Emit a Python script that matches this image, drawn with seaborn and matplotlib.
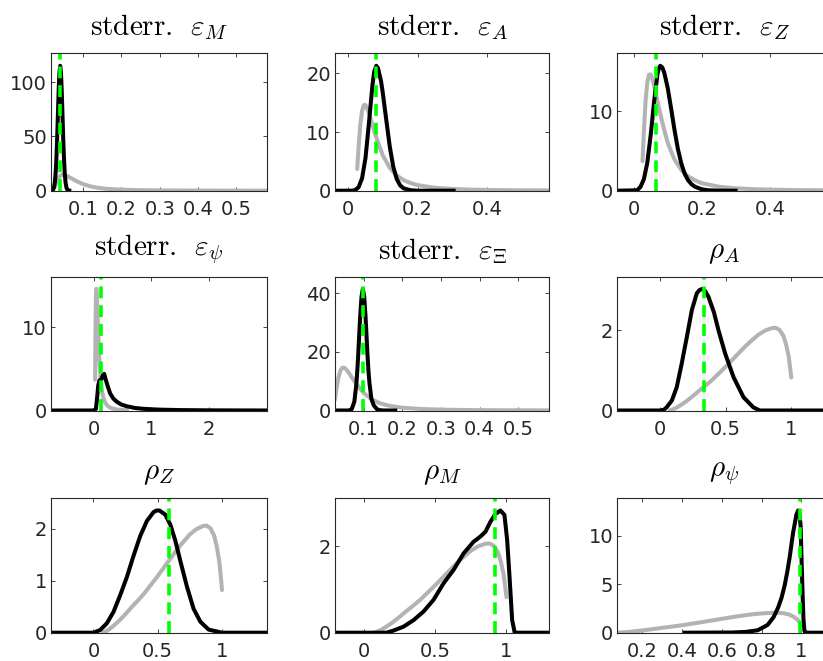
import numpy as np
import pandas as pd
import matplotlib
matplotlib.use("Agg")
import matplotlib.pyplot as plt
import seaborn as sns

# ---------------- data ----------------
# shared prior densities (grey)
prior_std_x = [0.026, 0.030, 0.035, 0.040, 0.045, 0.050, 0.055, 0.060, 0.070, 0.080, 0.090,
               0.100, 0.120, 0.140, 0.160, 0.180, 0.200, 0.250, 0.300, 0.350, 0.400, 0.450,
               0.500, 0.580]
prior_std_y = [3.7, 7.5, 11.3, 13.6, 14.6, 14.6, 14.0, 13.2, 11.2, 9.3, 7.6,
               6.0, 3.9, 2.6, 1.8, 1.3, 0.95, 0.5, 0.3, 0.19, 0.13, 0.09,
               0.07, 0.05]
prior_rho_x = [0.075, 0.12, 0.16, 0.2, 0.25, 0.3, 0.35, 0.4, 0.45, 0.5, 0.55, 0.6, 0.65,
               0.7, 0.75, 0.8, 0.85, 0.88, 0.91, 0.94, 0.96, 0.98, 0.99, 1.0]
prior_rho_y = [0.0, 0.06, 0.14, 0.23, 0.36, 0.5, 0.63, 0.77, 0.93, 1.09, 1.26, 1.43, 1.6,
               1.75, 1.89, 1.99, 2.05, 2.06, 2.01, 1.86, 1.65, 1.35, 1.1, 0.82]

# posterior densities (black)
post_eM_x = [0.016, 0.020, 0.022, 0.024, 0.026, 0.028, 0.030, 0.032, 0.034, 0.036, 0.038,
             0.040, 0.042, 0.044, 0.046, 0.048, 0.050, 0.052, 0.054, 0.056, 0.058, 0.060,
             0.064, 0.069]
post_eM_y = [0.04, 0.45, 1.3, 3.3, 7.6, 15.6, 28.7, 47.3, 69.8, 92.1, 108.8,
             115.0, 108.8, 92.1, 69.8, 47.3, 28.7, 15.6, 7.6, 3.3, 1.3, 0.45,
             0.04, 0.0]
post_eA_x = [-0.038, 0.01, 0.02, 0.03, 0.04, 0.05, 0.06, 0.07, 0.075, 0.081, 0.086, 0.095,
             0.10, 0.11, 0.12, 0.13, 0.14, 0.15, 0.16, 0.18, 0.20, 0.31]
post_eA_y = [0.0, 0.0, 0.1, 0.6, 2.1, 5.6, 11.6, 18.0, 20.3, 21.3, 20.9, 18.6,
             16.6, 12.0, 7.5, 4.1, 2.0, 0.9, 0.4, 0.08, 0.0, 0.0]
post_eZ_x = [-0.048, 0.01, 0.02, 0.03, 0.04, 0.05, 0.06, 0.07, 0.074, 0.078, 0.084, 0.09,
             0.10, 0.11, 0.12, 0.13, 0.14, 0.15, 0.16, 0.17, 0.18, 0.20, 0.22, 0.25, 0.305]
post_eZ_y = [0.0, 0.05, 0.47, 1.45, 3.5, 7.0, 11.2, 14.7, 15.4, 15.7, 15.5, 14.8,
             12.9, 10.3, 7.6, 5.2, 3.4, 2.1, 1.3, 0.8, 0.5, 0.17, 0.05, 0.01, 0.0]
post_epsi_x = [-0.74, 0.0, 0.04, 0.06, 0.08, 0.10, 0.13, 0.16, 0.183, 0.21, 0.25, 0.287, 0.34,
               0.40, 0.48, 0.58, 0.72, 0.87, 1.0, 1.16, 1.5, 2.0, 2.5, 3.01]
post_epsi_y = [0.0, 0.0, 0.2, 1.5, 3.0, 3.6, 3.7, 4.2, 4.4, 3.7, 2.8, 2.05, 1.45,
               1.06, 0.72, 0.5, 0.3, 0.2, 0.15, 0.1, 0.05, 0.02, 0.01, 0.0]
post_eXi_x = [0.027, 0.061, 0.069, 0.076, 0.081, 0.0835, 0.086, 0.0885, 0.091, 0.0945, 0.098,
              0.1015, 0.105, 0.1075, 0.110, 0.1125, 0.115, 0.120, 0.126, 0.134, 0.141, 0.151, 0.187]
post_eXi_y = [0.0, 0.0, 0.4, 3.0, 8.7, 13.3, 19.0, 25.5, 31.9, 38.8, 41.5,
              38.8, 31.9, 25.5, 19.0, 13.5, 9.5, 4.0, 1.8, 0.5, 0.12, 0.0, 0.0]
post_rA_x = [-0.326, 0.0, 0.03, 0.05, 0.09, 0.127, 0.165, 0.204, 0.242, 0.28, 0.30, 0.323,
             0.345, 0.369, 0.41, 0.445, 0.496, 0.56, 0.636, 0.71, 0.76, 1.305]
post_rA_y = [0.0, 0.0, 0.02, 0.08, 0.25, 0.58, 1.17, 1.83, 2.5, 2.92, 3.0, 3.03,
             2.97, 2.83, 2.45, 2.0, 1.42, 0.83, 0.33, 0.08, 0.0, 0.0]
post_rZ_x = [-0.33, 0.0, 0.052, 0.104, 0.156, 0.208, 0.26, 0.312, 0.364, 0.416, 0.468, 0.49,
             0.514, 0.559, 0.598, 0.637, 0.676, 0.728, 0.779, 0.832, 0.896, 1.0, 1.35]
post_rZ_y = [0.0, 0.0, 0.05, 0.18, 0.4, 0.72, 1.07, 1.48, 1.86, 2.15, 2.32, 2.35,
             2.35, 2.27, 2.08, 1.77, 1.38, 0.88, 0.46, 0.21, 0.06, 0.0, 0.0]
post_rM_x = [-0.2, 0.16, 0.21, 0.28, 0.35, 0.42, 0.49, 0.56, 0.63, 0.70, 0.77, 0.818, 0.853,
             0.888, 0.923, 0.958, 0.986, 1.005, 1.023, 1.04, 1.058, 1.30]
post_rM_y = [0.0, 0.0, 0.05, 0.14, 0.29, 0.49, 0.76, 1.14, 1.45, 1.83, 2.1, 2.22, 2.33,
             2.56, 2.74, 2.82, 2.72, 2.14, 1.22, 0.29, 0.0, 0.0]
post_rpsi_x = [0.405, 0.65, 0.72, 0.78, 0.83, 0.86, 0.883, 0.90, 0.916, 0.93, 0.941, 0.958,
               0.975, 0.983, 0.99, 0.996, 1.0, 1.005, 1.01, 1.015, 1.02, 1.15]
post_rpsi_y = [0.0, 0.02, 0.08, 0.25, 0.8, 1.6, 2.6, 3.6, 4.9, 6.4, 7.8, 10.3,
               12.2, 12.6, 12.3, 11.0, 8.0, 4.5, 1.5, 0.2, 0.0, 0.0]

# posterior modes (green dashed)
modes = [0.040, 0.081, 0.065, 0.12, 0.098, 0.335, 0.59, 0.923, 0.995]

titles = [r'$\mathrm{stderr.}\enspace\varepsilon_M$', r'$\mathrm{stderr.}\enspace\varepsilon_A$',
          r'$\mathrm{stderr.}\enspace\varepsilon_Z$', r'$\mathrm{stderr.}\enspace\varepsilon_\psi$',
          r'$\mathrm{stderr.}\enspace\varepsilon_\Xi$', r'$\rho_A$', r'$\rho_Z$', r'$\rho_M$',
          r'$\rho_\psi$']

xticks = [[0.1, 0.2, 0.3, 0.4, 0.5], [0, 0.2, 0.4], [0, 0.2, 0.4], [0, 1, 2],
          [0.1, 0.2, 0.3, 0.4, 0.5], [0, 0.5, 1], [0, 0.5, 1], [0, 0.5, 1],
          [0.2, 0.4, 0.6, 0.8, 1]]
xticklabels = [["0.1", "0.2", "0.3", "0.4", "0.5"], ["0", "0.2", "0.4"], ["0", "0.2", "0.4"],
               ["0", "1", "2"], ["0.1", "0.2", "0.3", "0.4", "0.5"], ["0", "0.5", "1"],
               ["0", "0.5", "1"], ["0", "0.5", "1"], ["0.2", "0.4", "0.6", "0.8", "1"]]
yticks = [[0, 50, 100], [0, 10, 20], [0, 10], [0, 10], [0, 20, 40], [0, 2], [0, 1, 2],
          [0, 2], [0, 5, 10]]

priors = [(prior_std_x, prior_std_y)] * 5 + [(prior_rho_x, prior_rho_y)] * 4
posts = [(post_eM_x, post_eM_y), (post_eA_x, post_eA_y), (post_eZ_x, post_eZ_y),
         (post_epsi_x, post_epsi_y), (post_eXi_x, post_eXi_y), (post_rA_x, post_rA_y),
         (post_rZ_x, post_rZ_y), (post_rM_x, post_rM_y), (post_rpsi_x, post_rpsi_y)]

# ---------------- styling ----------------
sns.set_theme(style="white")
plt.rcParams["font.family"] = ["DejaVu Sans"]
plt.rcParams["mathtext.fontset"] = "cm"

W, H = 823, 661
fig = plt.figure(figsize=(W / 100, H / 100), dpi=100)
fig.patch.set_facecolor("white")

col_left = [51, 335, 617.3]
col_w = [216, 214.3, 214]
row_top = [53.3, 276.7, 498.3]
row_bot = [190.7, 410.5, 632.7]

GREY = "#b3b3b3"
GREEN = "#00ff00"
AXC = "#262626"
LW = 2.9

for i in range(9):
    r, c = divmod(i, 3)
    ax = fig.add_axes([col_left[c] / W, 1 - row_bot[r] / H, col_w[c] / W,
                       (row_bot[r] - row_top[r]) / H])
    px, py = priors[i]
    qx, qy = posts[i]
    dfp = pd.DataFrame({"x": px, "y": py})
    dfq = pd.DataFrame({"x": qx, "y": qy})
    sns.lineplot(data=dfp, x="x", y="y", ax=ax, color=GREY, lw=LW, sort=False,
                 estimator=None, solid_capstyle="round", solid_joinstyle="round")
    sns.lineplot(data=dfq, x="x", y="y", ax=ax, color="black", lw=LW, sort=False,
                 estimator=None, solid_capstyle="butt", solid_joinstyle="round")
    ax.axvline(modes[i], color=GREEN, lw=2.6, ls=(0, (3.3, 1.9)))
    ax.set_xlim(min(min(px), min(qx)), max(max(px), max(qx)))
    ax.set_ylim(0, 1.1 * max(max(py), max(qy)))
    ax.set_xticks(xticks[i])
    ax.set_xticklabels(xticklabels[i])
    ax.set_yticks(yticks[i])
    ax.set_yticklabels([str(v) for v in yticks[i]])
    ax.set_xlabel("")
    ax.set_ylabel("")
    ax.tick_params(direction="in", length=3, width=0.6, colors=AXC, labelsize=14,
                   top=True, right=True, bottom=True, left=True)
    ax.tick_params(axis="x", pad=7)
    ax.tick_params(axis="y", pad=3)
    for s in ax.spines.values():
        s.set_visible(True)
        s.set_color(AXC)
        s.set_linewidth(0.8)
    ax.set_title(titles[i], fontsize=21, pad=8, va="bottom", color="black")

fig.savefig("out.png", dpi=100, facecolor="white")
